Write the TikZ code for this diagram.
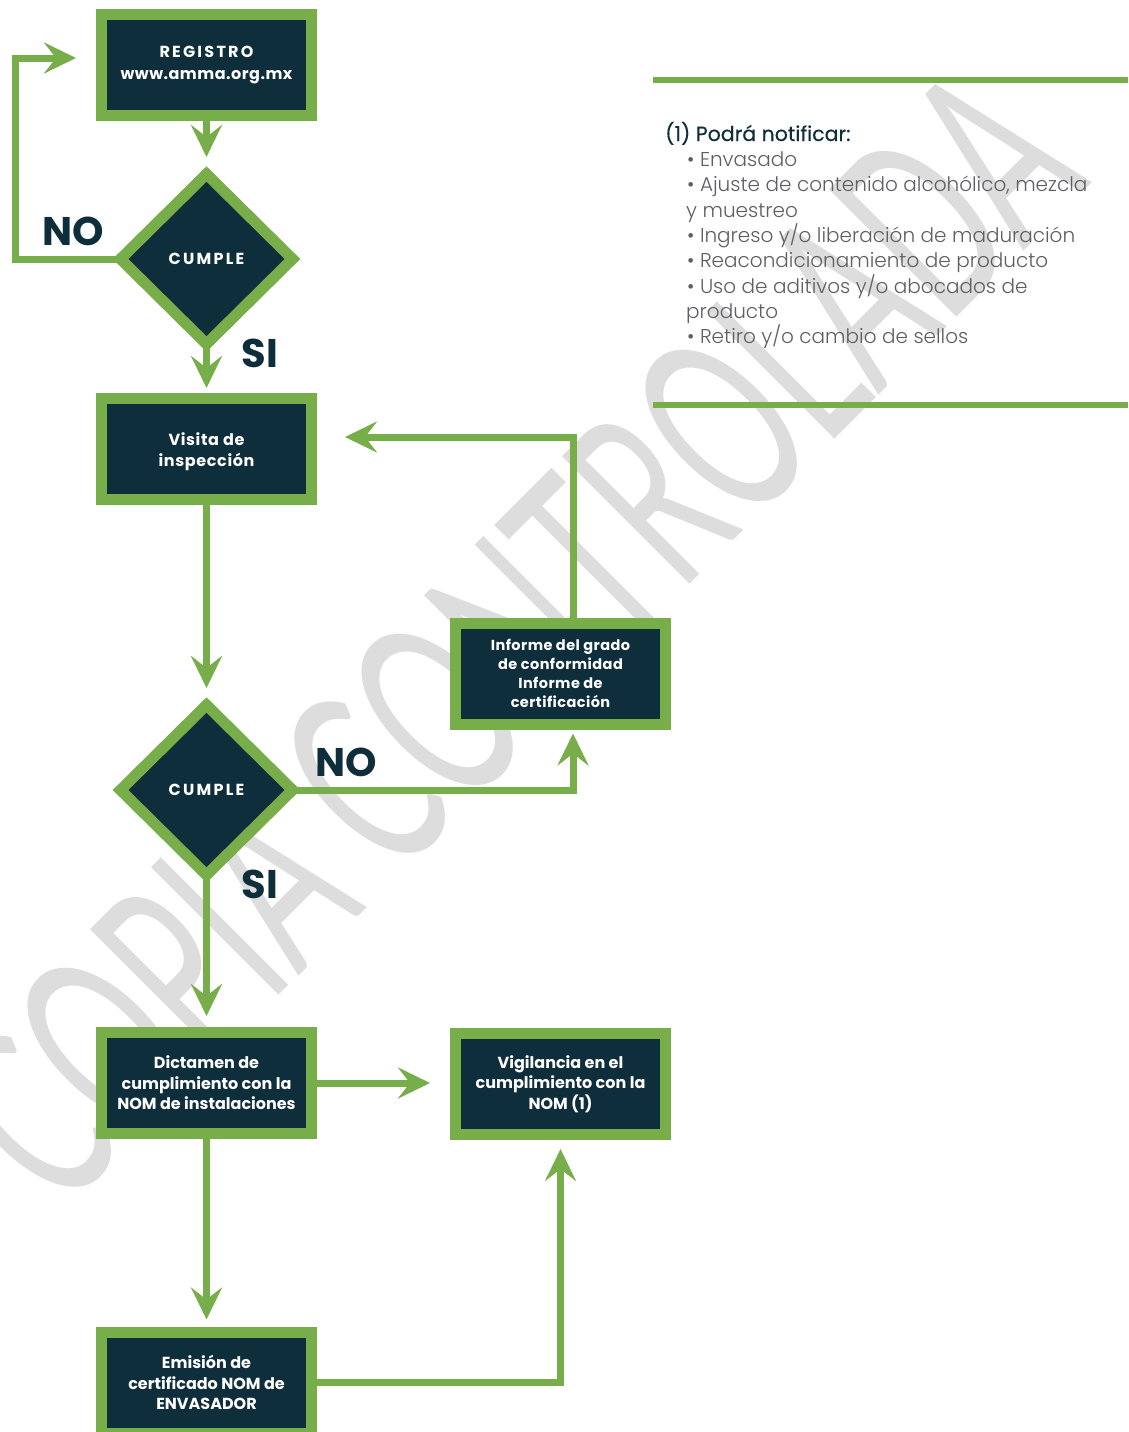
\documentclass[tikz,border=0pt]{standalone}
\usepackage{fontspec}
\usepackage{graphicx}
\setmainfont{Poppins}
\newfontfamily\wmfont{Lato}
\newfontfamily\lightfont{Poppins Light}
\newfontfamily\titlefont{Poppins}[FakeBold=0.3]
\usetikzlibrary{shapes.geometric,arrows.meta}
\definecolor{grn}{HTML}{78AE4A}
\definecolor{navy}{HTML}{0F2E3C}
\definecolor{wm}{HTML}{DDDDDD}
\definecolor{txtgray}{HTML}{5E5F62}
\begin{document}
\begin{tikzpicture}[x=1pt,y=-1pt,
  box/.style={draw=grn,fill=navy,line width=11pt,minimum width=210pt,minimum height=101pt,inner sep=0pt,outer sep=0pt,text=white,align=center,font=\bfseries\fontsize{16}{20.5}\selectfont},
  dia/.style={diamond,draw=grn,fill=navy,line width=11pt,minimum width=172pt,minimum height=170pt,inner sep=0pt,outer sep=0pt,text=white,font=\bfseries\fontsize{16}{20}\selectfont\addfontfeatures{LetterSpace=14}},
  conn/.style={draw=grn,line width=7pt,-{Stealth[length=32pt,width=31pt,inset=12pt]}},
  lbl/.style={text=navy,font=\bfseries\fontsize{40}{40}\selectfont,inner sep=0pt},
  rule/.style={draw=grn,line width=6pt},
  note/.style={anchor=base west,inner sep=0pt,text=txtgray,font=\lightfont\fontsize{20}{25}\selectfont}]
\useasboundingbox (0,0) rectangle (1128,1432);
\fill[white] (0,0) rectangle (1128,1432);
% watermark
\node[rotate=45,text=wm,inner sep=0pt] (wmk) at (512,635) {\resizebox{1460pt}{182pt}{\wmfont COPIA CONTROLADA}};
% right panel
\coordinate (r1a) at (653,80); \coordinate (r1b) at (1128,80);
\coordinate (r2a) at (653,405); \coordinate (r2b) at (1128,405);
\draw[rule] (r1a) -- (r1b);
\draw[rule] (r2a) -- (r2b);
\node[note,text=navy,font=\titlefont\fontsize{20.5}{25}\selectfont] (n0) at (665,141) {(1) Podrá notificar:};
\node[note] (n1) at (687,166) {• Envasado};
\node[note] (n2) at (687,191.5) {• Ajuste de contenido alcohólico, mezcla};
\node[note] (n3) at (686,217) {y muestreo};
\node[note] (n4) at (687,242) {• Ingreso y/o liberación de maduración};
\node[note] (n5) at (687,267.5) {• Reacondicionamiento de producto};
\node[note] (n6) at (687,293) {• Uso de aditivos y/o abocados de};
\node[note] (n7) at (686,318) {producto};
\node[note] (n8) at (687,343.5) {• Retiro y/o cambio de sellos};
% boxes
\node[box,font=\bfseries\fontsize{16}{22}\selectfont] (reg) at (206.5,65) {{\addfontfeatures{LetterSpace=14}REGISTRO}\\{\addfontfeatures{LetterSpace=3}www.amma.org.mx}};
\node[dia] (d1) at (206.5,259) {CUMPLE};
\node[box,label={[text=white,align=center,inner sep=0pt,yshift=-3pt,font=\bfseries\fontsize{16}{21}\selectfont\addfontfeatures{LetterSpace=4}]center:Visita de\\inspección}] (vis) at (206.5,449) {};
\node[dia] (d2) at (206.5,790) {CUMPLE};
\node[box,font=\bfseries\fontsize{14.5}{19}\selectfont\addfontfeatures{LetterSpace=3}] (inf) at (560.5,673.5) {Informe del grado\\de conformidad\\Informe de\\certificación};
\node[box] (dic) at (206.5,1083) {Dictamen de\\cumplimiento con la\\NOM de instalaciones};
\node[box] (vig) at (560.5,1084) {Vigilancia en el\\cumplimiento con la\\NOM (1)};
\node[box] (emi) at (206.5,1382.5) {Emisión de\\certificado NOM de\\ENVASADOR};
% labels
\node[lbl] (no1) at (73,231) {NO};
\node[lbl] (si1) at (260,353) {SI};
\node[lbl] (no2) at (346,762) {NO};
\node[lbl] (si2) at (260,884) {SI};
% connectors
\draw[conn,shorten >=17pt] (reg.south) -- (d1.north);
\draw[conn,shorten >=25.5pt] (d1.west) -- ++(-105,0) |- ([yshift=7pt]reg.west);
\draw[conn,shorten >=10.5pt] (d1.south) -- (vis.north);
\draw[conn,shorten >=17pt] (vis.south) -- (d2.north);
\draw[conn,shorten >=9.5pt] (d2.east) -| ([xshift=12.5pt]inf.south);
\draw[conn,shorten >=33.5pt] ([xshift=12.5pt]inf.north) |- ([yshift=12pt]vis.east);
\draw[conn,shorten >=16.5pt] (d2.south) -- (dic.north);
\draw[conn,shorten >=25.5pt] (dic.east) -- ([yshift=1pt]vig.west);
\draw[conn,shorten >=12.5pt] (dic.south) -- (emi.north);
\draw[conn,shorten >=14.5pt] (emi.east) -| (vig.south);
\end{tikzpicture}
\end{document}
